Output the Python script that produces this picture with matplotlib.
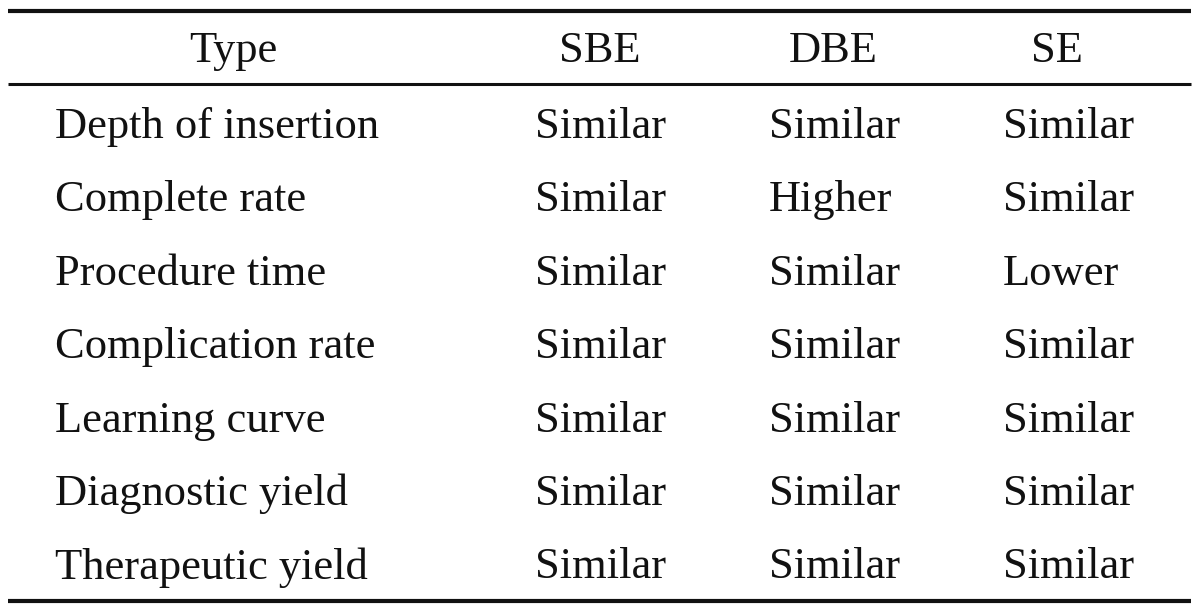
import matplotlib
matplotlib.use("Agg")
import matplotlib.pyplot as plt

columns = ["Type", "SBE", "DBE", "SE"]
row_labels = ["Depth of insertion", "Complete rate", "Procedure time",
              "Complication rate", "Learning curve", "Diagnostic yield",
              "Therapeutic yield"]
sbe = ["Similar"] * 7
dbe = ["Similar", "Higher", "Similar", "Similar", "Similar", "Similar", "Similar"]
se = ["Similar", "Similar", "Lower", "Similar", "Similar", "Similar", "Similar"]

fig = plt.figure(figsize=(12, 6.12), dpi=100)
ax = fig.add_axes([0, 0, 1, 1])
ax.set_xlim(0, 1200)
ax.set_ylim(612, 0)
ax.axis("off")

font = dict(family=["Liberation Serif", "DejaVu Serif"], fontsize=32, color="#111111")

# rules
ax.plot([8, 1191], [11, 11], color="#111111", lw=3, solid_capstyle="butt")
ax.plot([8, 1191], [84, 84], color="#111111", lw=2.2, solid_capstyle="butt")
ax.plot([8, 1191], [601, 601], color="#111111", lw=3, solid_capstyle="butt")

header_x = [233, 600, 833, 1057]
for x, h in zip(header_x, columns):
    ax.text(x, 51, h, ha="center", va="center", **font)

row_y0, row_dy = 127, 73.4
col_x = [55, 535, 769, 1003]
for i, lab in enumerate(row_labels):
    y = row_y0 + i * row_dy
    for x, txt in zip(col_x, [lab, sbe[i], dbe[i], se[i]]):
        ax.text(x, y, txt, ha="left", va="center", **font)

fig.savefig("out.png", dpi=100, facecolor="white")
